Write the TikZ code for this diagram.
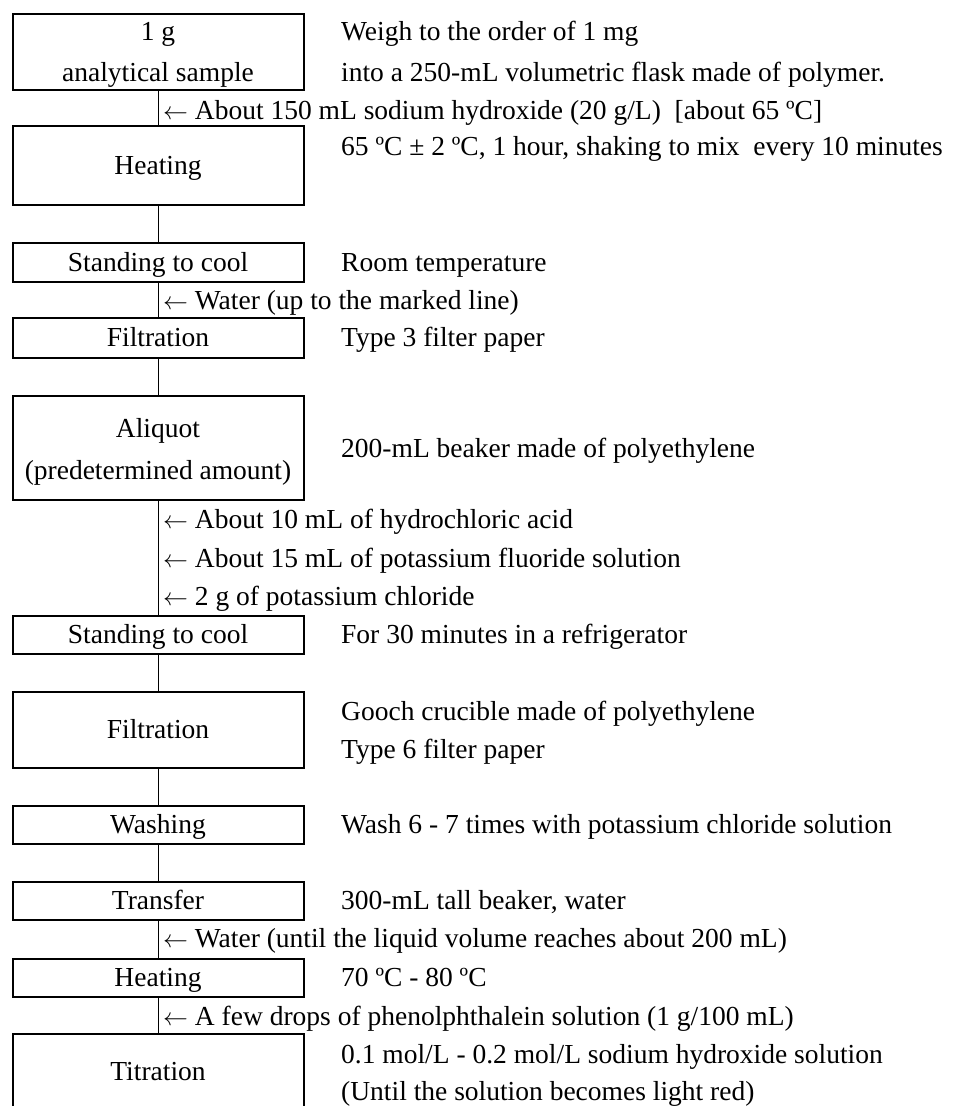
\documentclass[tikz,border=0pt]{standalone}
\usepackage{fontspec}
\setmainfont{Liberation Serif}
\begin{document}
\begin{tikzpicture}[x=1pt,y=-1pt,
  box/.style={draw,line width=1.5pt,minimum width=291pt,inner sep=0pt,anchor=north west},
  lbl/.style={anchor=base,inner sep=0pt,font=\fontsize{27.5}{32}\selectfont},
  note/.style={anchor=base west,inner sep=0pt,font=\fontsize{27.5}{32}\selectfont},
  link/.style={line width=1.5pt}]
\useasboundingbox (0,0) rectangle (954,1106);
\clip (0,0) rectangle (954,1106);
% boxes
\node[box,minimum height=76pt] (b1) at (12,13) {};
\node[box,minimum height=79pt] (b2) at (12,125) {};
\node[box,minimum height=39pt] (b3) at (12,242) {};
\node[box,minimum height=40pt] (b4) at (12,317) {};
\node[box,minimum height=104pt] (b5) at (12,395) {};
\node[box,minimum height=38pt] (b6) at (12,615) {};
\node[box,minimum height=76pt] (b7) at (12,691) {};
\node[box,minimum height=38pt] (b8) at (12,805) {};
\node[box,minimum height=38pt] (b9) at (12,881) {};
\node[box,minimum height=38pt] (b10) at (12,958) {};
\node[box,minimum height=100pt] (b11) at (12,1033) {};
% connectors
\foreach \a/\b in {b1/b2,b2/b3,b3/b4,b4/b5,b5/b6,b6/b7,b7/b8,b8/b9,b9/b10,b10/b11}
  \draw[link] (\a.south) -- (\b.north);
% box labels
\node[lbl] (t1a) at (158,40) {1 g};
\node[lbl] (t1b) at (158,81) {analytical sample};
\node[lbl] (t2) at (158,174) {Heating};
\node[lbl] (t3) at (158,271) {Standing to cool};
\node[lbl] (t4) at (158,346) {Filtration};
\node[lbl] (t5a) at (158,437) {Aliquot};
\node[lbl] (t5b) at (158,479) {(predetermined amount)};
\node[lbl] (t6) at (158,643) {Standing to cool};
\node[lbl] (t7) at (158,738) {Filtration};
\node[lbl] (t8) at (158,833) {Washing};
\node[lbl] (t9) at (158,909) {Transfer};
\node[lbl] (t10) at (158,986) {Heating};
\node[lbl] (t11) at (158,1080) {Titration};
% right notes
\node[note] (n1a) at (341,40) {Weigh to the order of 1 mg};
\node[note] (n1b) at (341,81) {into a 250-mL volumetric flask made of polymer.};
\node[note] (a1) at (163,119) {$\leftarrow$ About 150 mL sodium hydroxide (20 g/L)\ \ [about 65 ºC]};
\node[note] (n2) at (341,155) {65 ºC ± 2 ºC, 1 hour, shaking to mix\ \ every 10 minutes};
\node[note] (n3) at (341,271) {Room temperature};
\node[note] (a2) at (163,309) {$\leftarrow$ Water (up to the marked line)};
\node[note] (n4) at (341,346) {Type 3 filter paper};
\node[note] (n5) at (341,457) {200-mL beaker made of polyethylene};
\node[note] (a3) at (163,528) {$\leftarrow$ About 10 mL of hydrochloric acid};
\node[note] (a4) at (163,567) {$\leftarrow$ About 15 mL of potassium fluoride solution};
\node[note] (a5) at (163,605) {$\leftarrow$ 2 g of potassium chloride};
\node[note] (n6) at (341,643) {For 30 minutes in a refrigerator};
\node[note] (n7a) at (341,720) {Gooch crucible made of polyethylene};
\node[note] (n7b) at (341,758) {Type 6 filter paper};
\node[note] (n8) at (341,833) {Wash 6 - 7 times with potassium chloride solution};
\node[note] (n9) at (341,909) {300-mL tall beaker, water};
\node[note] (a6) at (163,947) {$\leftarrow$ Water (until the liquid volume reaches about 200 mL)};
\node[note] (n10) at (341,986) {70 ºC - 80 ºC};
\node[note] (a7) at (163,1025) {$\leftarrow$ A few drops of phenolphthalein solution (1 g/100 mL)};
\node[note] (n11a) at (341,1063) {0.1 mol/L - 0.2 mol/L sodium hydroxide solution};
\node[note] (n11b) at (341,1100) {(Until the solution becomes light red)};
\end{tikzpicture}
\end{document}
